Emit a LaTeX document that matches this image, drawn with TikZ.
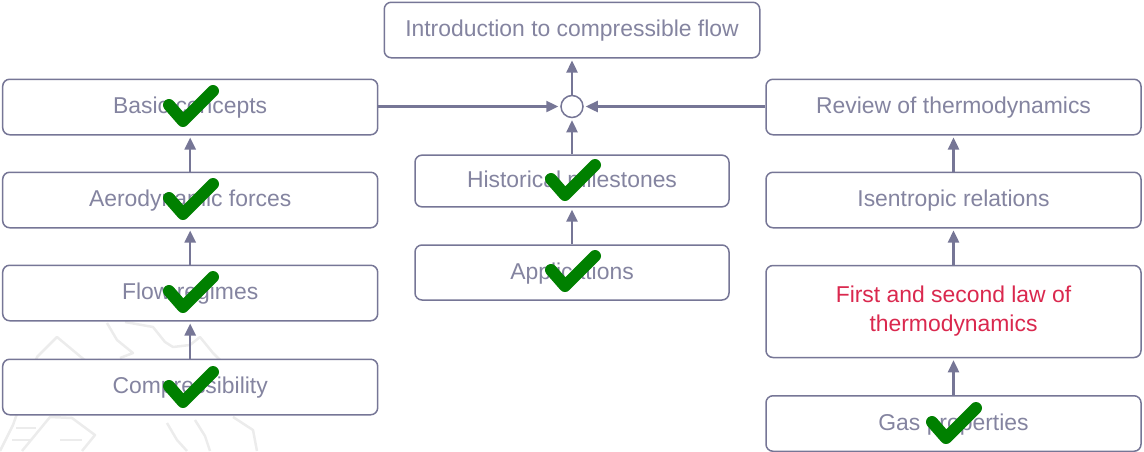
\documentclass[tikz,border=0pt]{standalone}
\usepackage{fontspec}
\setmainfont{Liberation Sans}
\usetikzlibrary{arrows.meta}
\definecolor{boxc}{RGB}{118,118,150}
\definecolor{txtc}{RGB}{132,132,160}
\definecolor{redc}{RGB}{218,40,78}
\definecolor{chk}{RGB}{0,128,0}
\definecolor{wm}{RGB}{236,236,236}
\tikzset{
  topic/.style={draw=boxc,line width=1.5pt,rounded corners=7pt,fill=white,inner sep=0pt,align=center,
    text=txtc,font=\fontsize{22.9}{29}\selectfont},
  single/.style={topic,text height=18pt,text depth=5pt},
  link/.style={draw=boxc,line width=2.4pt,-{Triangle[length=12pt,width=11pt]},shorten >=2pt},
  tick/.style={draw=chk,line width=12pt,line cap=round,line join=round},
  mark line/.style={draw=wm,line width=2.5pt,line join=round},
}
\newcommand{\tickat}[2]{\draw[tick] (#1-14,#2+14) -- (#1,#2+30) -- (#1+30,#2);}
\begin{document}
\begin{tikzpicture}[x=1pt,y=-1pt]
\useasboundingbox (0,0) rectangle (1144,451);
\draw[mark line] (0,451) -- (13,425) -- (37,357) -- (57,337) -- (87,362) -- (100,360) -- (122,378) -- (112,392) -- (126,402);
\draw[mark line] (22,451) -- (50,417) -- (72,418) -- (95,435) -- (82,451);
\draw[mark line] (16,428) -- (36,428) (12,440) -- (32,440) (60,440) -- (82,440);
\draw[mark line] (107,323) -- (117,340) -- (133,353) -- (120,358);
\draw[mark line] (125,322) -- (153,327) -- (165,342) -- (173,347) -- (190,345) -- (200,337) -- (213,353) -- (220,360);
\draw[mark line] (167,423) -- (177,440) -- (187,451);
\draw[mark line] (195,420) -- (205,436) -- (210,451);
\draw[mark line] (233,417) -- (253,430) -- (257,451);
\node[single,minimum width=375.5pt,minimum height=55.5pt] (intro) at (572,30) {Introduction to compressible flow};
\node[single,minimum width=375pt,minimum height=55.5pt] (basic) at (190.2,107) {Basic concepts};
\node[single,minimum width=375pt,minimum height=55.5pt] (aero) at (190.2,200) {Aerodynamic forces};
\node[single,minimum width=375pt,minimum height=55.5pt] (regimes) at (190.2,293) {Flow regimes};
\node[single,minimum width=375pt,minimum height=55.5pt] (comp) at (190.2,387) {Compressibility};
\node[single,minimum width=314pt,minimum height=51.7pt] (hist) at (572,181) {Historical milestones};
\node[single,minimum width=314pt,minimum height=55pt] (appl) at (572,272.5) {Applications};
\node[single,minimum width=375pt,minimum height=55.5pt] (review) at (953.5,107) {Review of thermodynamics};
\node[single,minimum width=375pt,minimum height=55.5pt] (isen) at (953.5,200) {Isentropic relations};
\node[topic,minimum width=375pt,minimum height=92pt,text=redc] (laws) at (953.5,311.5) {First and second law of\\thermodynamics};
\node[single,minimum width=375pt,minimum height=55.5pt] (gas) at (953.5,423.5) {Gas properties};
\node[draw=boxc,line width=1.5pt,circle,fill=white,minimum size=22pt,inner sep=0pt] (hub) at (572,106.5) {};
\draw[link] (comp) -- (regimes);
\draw[link] (regimes) -- (aero);
\draw[link] (aero) -- (basic);
\draw[link] (appl) -- (hist);
\draw[link] (hist) -- (hub);
\draw[link] (hub) -- (intro);
\draw[link] (gas) -- (laws);
\draw[link] (laws) -- (isen);
\draw[link] (isen) -- (review);
\draw[link] (basic.east |- hub) -- (hub);
\draw[link] (review.west |- hub) -- (hub);
\tickat{183}{91}
\tickat{183}{184}
\tickat{183}{277}
\tickat{183}{372}
\tickat{565}{165}
\tickat{565}{256}
\tickat{946}{408}
\end{tikzpicture}
\end{document}
